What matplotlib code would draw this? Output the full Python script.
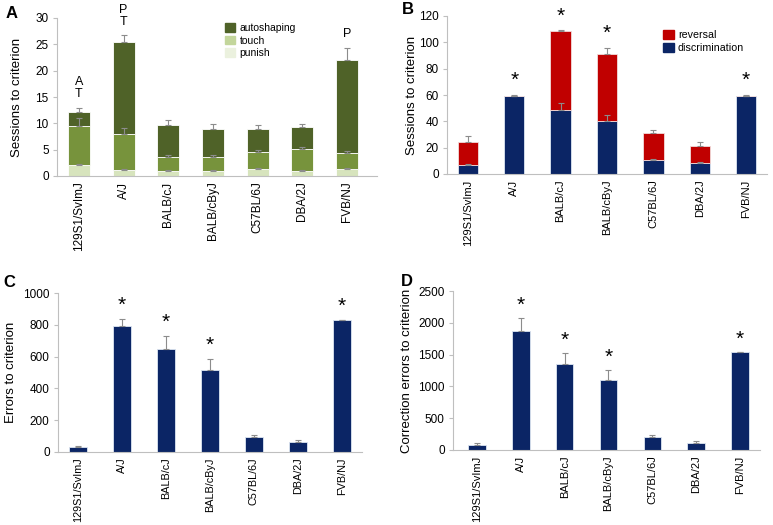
import numpy as np
import matplotlib
matplotlib.use("Agg")
import matplotlib.pyplot as plt
from matplotlib.patches import Patch

plt.rcParams['font.family'] = ['Liberation Sans', 'DejaVu Sans']

strains = ["129S1/SvImJ", "A/J", "BALB/cJ", "BALB/cByJ", "C57BL/6J", "DBA/2J", "FVB/NJ"]

# panel A: sessions per stage (stacked)
punish = [2.0, 1.1, 0.9, 0.9, 1.3, 1.0, 1.3]
punish_err = [0.3, 0.3, 0.15, 0.15, 0.15, 0.15, 0.2]
touch = [7.4, 6.9, 2.8, 2.8, 3.3, 4.2, 3.0]
touch_err = [1.6, 1.2, 0.2, 0.2, 0.3, 0.4, 0.5]
autoshaping = [2.7, 17.5, 5.9, 5.3, 4.4, 4.1, 17.8]
autoshaping_err = [0.9, 1.2, 1.1, 0.8, 0.6, 0.5, 2.2]
marks_a = ["A\nT", "P\nT", "", "", "", "", "P"]

# panel B: discrimination / reversal
discrimination = [6.5, 59.5, 48.5, 40.5, 10.5, 8.0, 59.5]
discrimination_err = [1.0, 0.5, 5.5, 4.5, 1.0, 1.0, 0.5]
reversal = [17.5, 0, 60.0, 50.5, 21.0, 13.5, 0]
reversal_err = [4.5, 0, 0.5, 5.0, 2.0, 2.5, 0]
stars_b = ["", "*", "*", "*", "", "", "*"]

# panel C: errors
errors = [33, 790, 648, 515, 92, 62, 828]
errors_err = [6, 45, 80, 72, 16, 13, 3]
stars_c = ["", "*", "*", "*", "", "", "*"]

# panel D: correction errors
corrections = [85, 1865, 1345, 1095, 200, 110, 1540]
corrections_err = [22, 210, 180, 165, 32, 30, 6]
stars_d = ["", "*", "*", "*", "", "", "*"]

dark_green = "#4F6228"
mid_green = "#77933C"
light_green = "#D7E4BD"
red = "#C00000"
navy = "#0B2565"
edge = "#DDE6F2"
spine_col = "#BFBFBF"

W, H = 773, 525
fig = plt.figure(figsize=(W / 100, H / 100), dpi=100)


def px_axes(left, right, top, bottom):
    return fig.add_axes([left / W, 1 - bottom / H, (right - left) / W, (bottom - top) / H])


axA = px_axes(57, 377, 18, 176)
axB = px_axes(447, 767, 16, 174)
axC = px_axes(58, 362, 293, 452)
axD = px_axes(453, 760, 291, 450)

x = np.arange(len(strains))
zero = np.zeros(len(x))
ekw = dict(ecolor="#8C8C8C", elinewidth=0.8, capsize=2, capthick=0.8)


def style(ax, xlim, ymax, step, ylabel, lx, xfs):
    ax.set_xlim(*xlim)
    ax.set_ylim(0, ymax)
    ax.set_yticks(np.arange(0, ymax + 1, step))
    ax.set_xticks(x)
    ax.set_xticklabels(strains, rotation=90, fontsize=xfs)
    ax.tick_params(axis='y', labelsize=8.5, length=3, color=spine_col, pad=3)
    ax.tick_params(axis='x', length=0, pad=4)
    for s in ["top", "right"]:
        ax.spines[s].set_visible(False)
    for s in ["left", "bottom"]:
        ax.spines[s].set_color(spine_col)
    ax.set_ylabel(ylabel, fontsize=9.5)
    ax.yaxis.set_label_coords(lx, 0.5)


def stars(ax, tops, marks, off):
    for i, s in enumerate(marks):
        if s:
            ax.text(x[i], tops[i] + off, s, ha="center", va="center", fontsize=15)


# A
p = np.array(punish)
t = np.array(touch)
a = np.array(autoshaping)
axA.bar(x, p, 0.49, color=light_green, edgecolor="white", linewidth=0.6,
        yerr=[zero, punish_err], error_kw=ekw)
axA.bar(x, t, 0.49, bottom=p, color=mid_green, edgecolor="white", linewidth=0.6,
        yerr=[zero, touch_err], error_kw=ekw)
axA.bar(x, a, 0.49, bottom=p + t, color=dark_green, edgecolor="white", linewidth=0.6,
        yerr=[zero, autoshaping_err], error_kw=ekw)
topA = p + t + a + np.array(autoshaping_err)
for i, m in enumerate(marks_a):
    for k, line in enumerate(reversed(m.split("\n")) if m else []):
        axA.text(x[i], topA[i] + 2.6 + 2.3 * k, line, ha="center", va="center",
                 fontsize=9, clip_on=False)
style(axA, (-0.49, 6.67), 30, 5, "Sessions to criterion", -0.106, 8.5)
handles = [Patch(color=dark_green), Patch(color="#C3D69B"), Patch(color="#EBF1DE")]
axA.legend(handles, ["autoshaping", "touch", "punish"], loc="upper left",
           bbox_to_anchor=(0.525, 0.968), frameon=False, fontsize=7.5,
           handlelength=1.0, handleheight=0.9, handletextpad=0.4,
           labelspacing=0.25, borderpad=0, borderaxespad=0)

# B
d = np.array(discrimination)
r = np.array(reversal)
axB.bar(x, d, 0.44, color=navy, edgecolor=edge, linewidth=0.6,
        yerr=[zero, discrimination_err], error_kw=ekw)
axB.bar(x, r, 0.44, bottom=d, color=red, edgecolor="#F2DCDB", linewidth=0.6,
        yerr=[zero, reversal_err], error_kw=ekw)
topB = d + r + np.where(r > 0, reversal_err, discrimination_err)
stars(axB, topB, stars_b, 11)
style(axB, (-0.45, 6.45), 120, 20, "Sessions to criterion", -0.09, 8)
handles = [Patch(color=red), Patch(color=navy)]
axB.legend(handles, ["reversal", "discrimination"], loc="upper left",
           bbox_to_anchor=(0.675, 0.911), frameon=False, fontsize=7.7,
           handlelength=1.0, handleheight=0.9, handletextpad=0.4,
           labelspacing=0.25, borderpad=0, borderaxespad=0)

# C
axC.bar(x, errors, 0.42, color=navy, edgecolor=edge, linewidth=0.6,
        yerr=[zero, errors_err], error_kw=ekw)
stars(axC, np.array(errors) + np.array(errors_err), stars_c, 85)
style(axC, (-0.46, 6.46), 1000, 200, "Errors to criterion", -0.135, 7.8)

# D
axD.bar(x, corrections, 0.4, color=navy, edgecolor=edge, linewidth=0.6,
        yerr=[zero, corrections_err], error_kw=ekw)
stars(axD, np.array(corrections) + np.array(corrections_err), stars_d, 200)
style(axD, (-0.55, 6.46), 2500, 500, "Correction errors to criterion", -0.13, 8)

# panel letters
for lx, ly, letter in [(6, 6, "A"), (402, 2, "B"), (3, 275, "C"), (401, 274, "D")]:
    fig.text(lx / W, 1 - ly / H, letter, fontsize=12, fontweight="bold",
             ha="left", va="top")

fig.savefig("out.png", dpi=100)
